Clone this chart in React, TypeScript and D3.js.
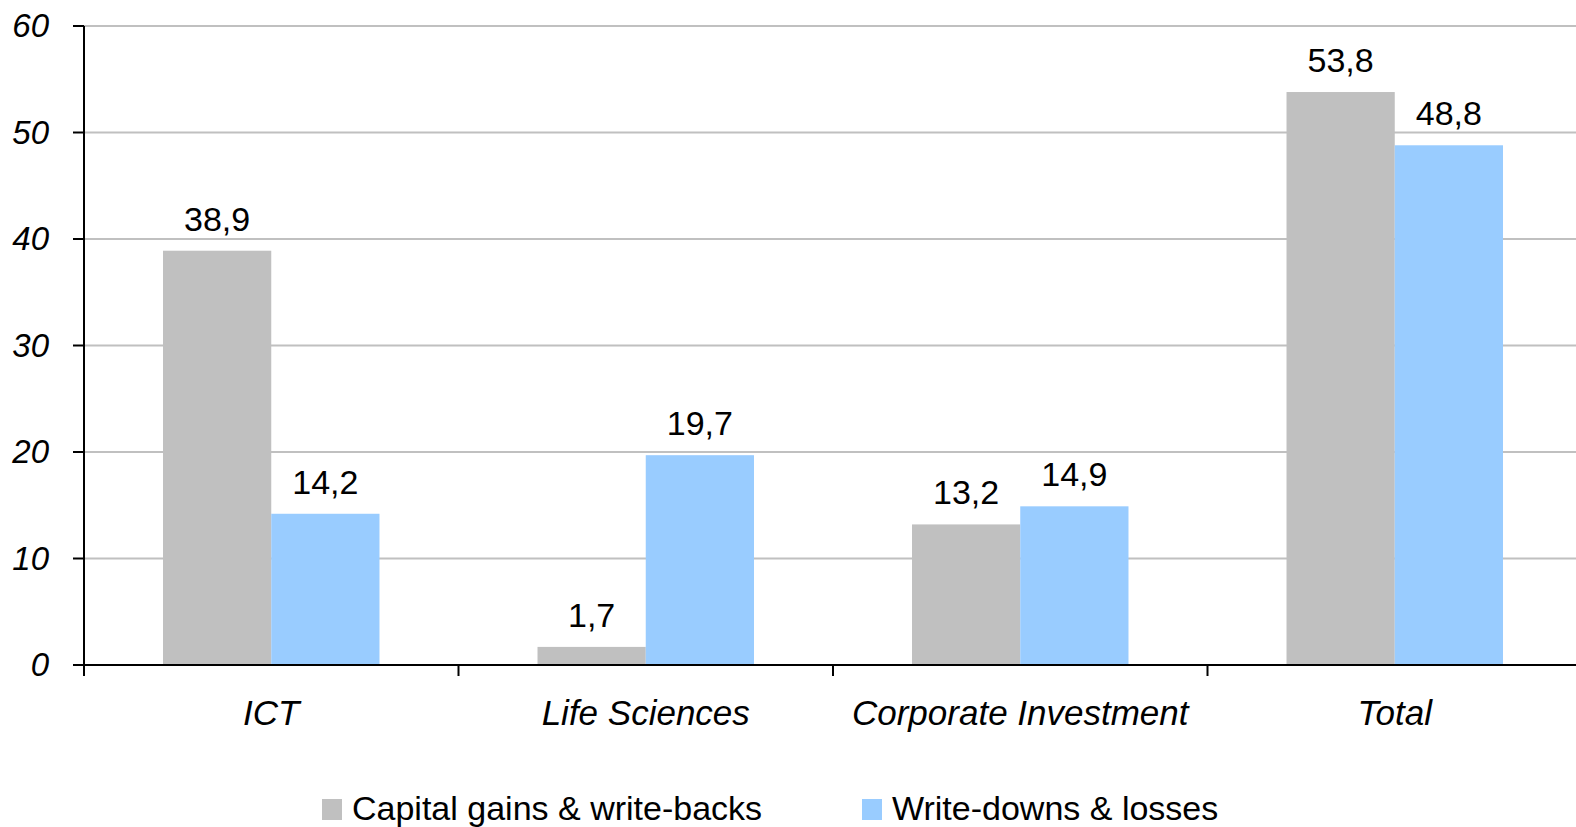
import * as d3 from 'd3';

const categories = ['ICT', 'Life Sciences', 'Corporate Investment', 'Total'];
const seriesNames = ['Capital gains & write-backs', 'Write-downs & losses'];
const gains = [38.9, 1.7, 13.2, 53.8];
const losses = [14.2, 19.7, 14.9, 48.8];
const yTicks = [0, 10, 20, 30, 40, 50, 60];
const colors = ['#c0c0c0', '#99ccff'];

const W = 1576;
const H = 827;
const left = 84;
const right = 1582;
const top = 26;
const bottom = 665;

export default function App() {
  const x = d3.scaleBand<string>().domain(categories).range([left, right]).paddingInner(0).paddingOuter(0);
  const inner = d3
    .scaleBand<string>()
    .domain(['g', 'l'])
    .range([0, x.bandwidth()])
    .paddingOuter(0.73)
    .paddingInner(0);
  const y = d3.scaleLinear().domain([0, 60]).range([bottom, top]);
  const fmt = (v: number) => v.toFixed(1).replace('.', ',');
  const font = 'Liberation Sans, Arial, sans-serif';

  const series = [gains, losses];
  const keys = ['g', 'l'];

  return (
    <svg
      width={W}
      height={H}
      style={{ position: 'absolute', left: 0, top: 0, background: '#fff' }}
      fontFamily={font}
    >
      {/* gridlines */}
      {yTicks.filter((t) => t > 0).map((t) => (
        <line key={t} x1={left} x2={W} y1={y(t)} y2={y(t)} stroke="#c0c0c0" strokeWidth={2} />
      ))}
      {/* bars */}
      {categories.map((c, i) =>
        series.map((s, j) => (
          <rect
            key={c + j}
            x={(x(c) ?? 0) + (inner(keys[j]) ?? 0)}
            y={y(s[i])}
            width={inner.bandwidth()}
            height={bottom - y(s[i])}
            fill={colors[j]}
          />
        ))
      )}
      {/* value labels */}
      {categories.map((c, i) =>
        series.map((s, j) => (
          <text
            key={'v' + c + j}
            x={(x(c) ?? 0) + (inner(keys[j]) ?? 0) + inner.bandwidth() / 2}
            y={y(s[i]) - 20}
            textAnchor="middle"
            fontSize={34}
            fill="#000"
          >
            {fmt(s[i])}
          </text>
        ))
      )}
      {/* y axis */}
      <line x1={left} x2={left} y1={top} y2={bottom + 11} stroke="#000" strokeWidth={2} />
      {yTicks.map((t) => (
        <g key={'yt' + t}>
          <line x1={left - 11} x2={left} y1={y(t)} y2={y(t)} stroke="#000" strokeWidth={2} />
          <text x={49} y={y(t) + 11} textAnchor="end" fontSize={33} fontStyle="italic">
            {t}
          </text>
        </g>
      ))}
      {/* x axis */}
      <line x1={left} x2={W} y1={bottom} y2={bottom} stroke="#000" strokeWidth={2} />
      {categories.map((c) => (
        <line
          key={'xt' + c}
          x1={(x(c) ?? 0) + x.bandwidth()}
          x2={(x(c) ?? 0) + x.bandwidth()}
          y1={bottom}
          y2={bottom + 11}
          stroke="#000"
          strokeWidth={2}
        />
      ))}
      {categories.map((c) => (
        <text
          key={'xl' + c}
          x={(x(c) ?? 0) + x.bandwidth() / 2}
          y={725}
          textAnchor="middle"
          fontSize={35}
          fontStyle="italic"
        >
          {c}
        </text>
      ))}
      {/* legend */}
      {seriesNames.map((n, j) => {
        const lx = j === 0 ? 322 : 862;
        return (
          <g key={n}>
            <rect x={lx} y={799} width={20} height={21} fill={colors[j]} />
            <text x={lx + 30} y={820} fontSize={34}>
              {n}
            </text>
          </g>
        );
      })}
    </svg>
  );
}
